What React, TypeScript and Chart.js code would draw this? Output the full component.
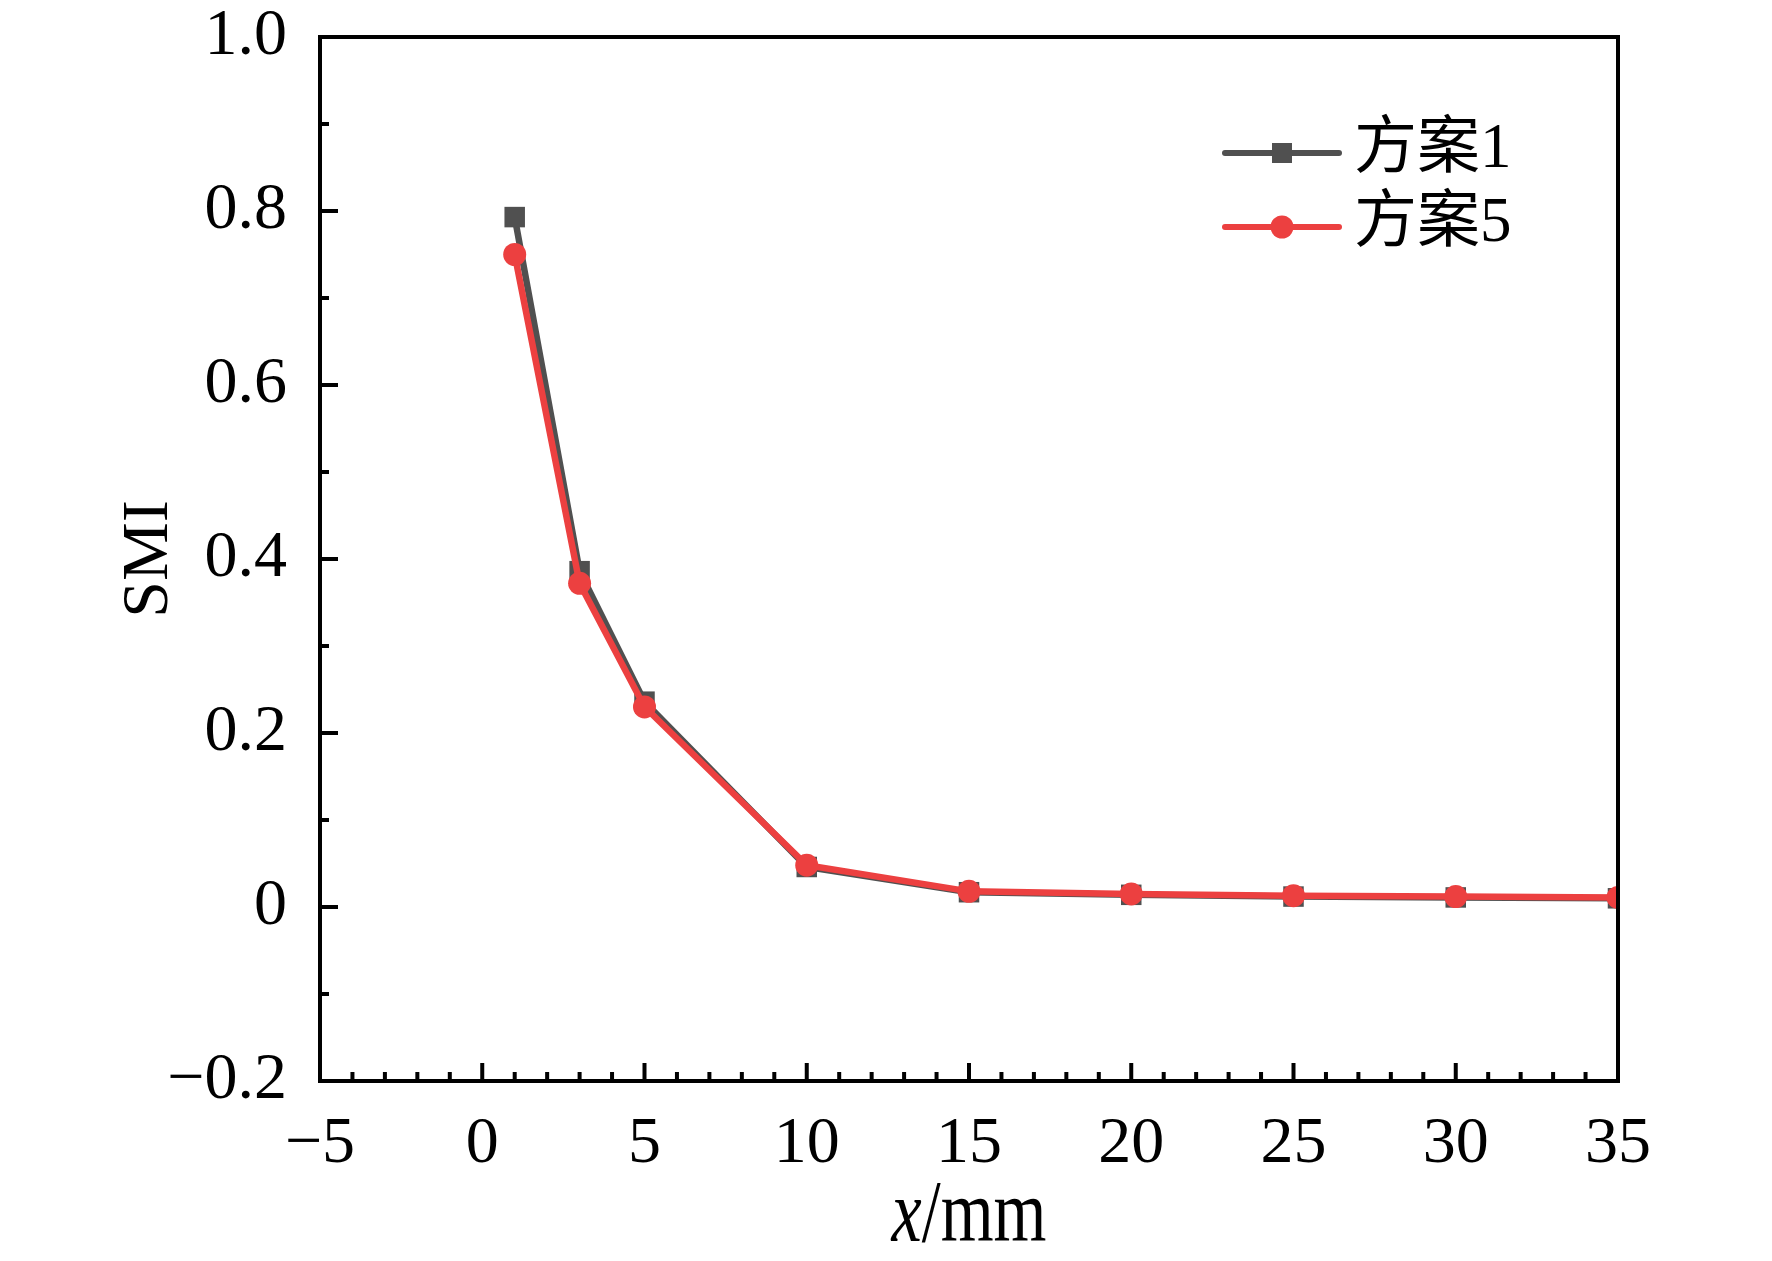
import React, { useEffect, useRef } from 'react';
import { Chart, registerables } from 'chart.js';

Chart.register(...registerables);

// data
const xValues = [1, 3, 5, 10, 15, 20, 25, 30, 35];
const scheme1 = [0.793, 0.386, 0.236, 0.046, 0.017, 0.014, 0.012, 0.011, 0.01];
const scheme5 = [0.75, 0.372, 0.23, 0.048, 0.018, 0.015, 0.013, 0.012, 0.011];
const seriesLabels = ['方案1', '方案5'];
const seriesColors = ['#505050', '#ec4040'];
const seriesMarkers = ['rect', 'circle'];
const xRange = [-5, 35];
const yRange = [-0.2, 1.0];

const SERIF = '"Liberation Serif", "Times New Roman", "Noto Sans CJK SC", serif';

const signed = (s: string, v: number) => (v < 0 ? '\u2212' + s : s);

const fmtX = (v: number) => signed(String(Math.abs(v)), v);
const fmtY = (v: number) => {
  if (Math.abs(v) < 1e-9) return '0';
  return signed(Math.abs(v).toFixed(1), v);
};

// box frame + inward ticks on left and bottom
const framePlugin = {
  id: 'frame',
  afterDatasetsDraw(chart: any) {
    const { ctx, chartArea: a, scales } = chart;
    const xs = scales.x;
    const ys = scales.y;
    ctx.save();
    ctx.strokeStyle = '#000';
    ctx.lineWidth = 4;
    ctx.beginPath();
    for (let i = 0; ; i++) {
      const v = xs.min + i;
      if (v > xs.max + 1e-9) break;
      const px = xs.getPixelForValue(v);
      const len = i % 5 === 0 ? 18 : 9;
      ctx.moveTo(px, a.bottom);
      ctx.lineTo(px, a.bottom - len);
    }
    for (let i = 0; ; i++) {
      const v = ys.min + i * 0.1;
      if (v > ys.max + 1e-9) break;
      const py = ys.getPixelForValue(v);
      const len = i % 2 === 0 ? 18 : 9;
      ctx.moveTo(a.left, py);
      ctx.lineTo(a.left + len, py);
    }
    ctx.stroke();
    ctx.lineJoin = 'miter';
    ctx.strokeRect(a.left, a.top, a.right - a.left, a.bottom - a.top);
    ctx.restore();
  },
};

// legend in the upper right of the plot
const legendPlugin = {
  id: 'insideLegend',
  afterDraw(chart: any) {
    const { ctx, chartArea: a } = chart;
    const x0 = a.right - 393;
    const x1 = a.right - 279;
    const xm = (x0 + x1) / 2;
    ctx.save();
    chart.data.datasets.forEach((ds: any, i: number) => {
      const y = a.top + 116 + i * 74;
      ctx.strokeStyle = ds.borderColor;
      ctx.lineWidth = 6;
      ctx.lineCap = 'round';
      ctx.beginPath();
      ctx.moveTo(x0, y);
      ctx.lineTo(x1, y);
      ctx.stroke();
      ctx.fillStyle = ds.pointBackgroundColor;
      ctx.beginPath();
      if (ds.pointStyle === 'rect') {
        ctx.rect(xm - 10, y - 10, 20, 20);
      } else {
        ctx.arc(xm, y, 11.5, 0, Math.PI * 2);
      }
      ctx.fill();
      ctx.fillStyle = '#000';
      ctx.font = '63px ' + SERIF;
      ctx.textAlign = 'left';
      ctx.textBaseline = 'middle';
      ctx.fillText(ds.label, a.right - 264, y - 3);
    });
    ctx.restore();
  },
};

// x axis title with italic x
const xTitlePlugin = {
  id: 'xTitle',
  afterDraw(chart: any) {
    const { ctx, chartArea: a } = chart;
    const size = 68;
    const italic = 'italic ' + size + 'px ' + SERIF;
    const upright = size + 'px ' + SERIF;
    ctx.save();
    ctx.font = italic;
    const w1 = ctx.measureText('x').width;
    ctx.font = upright;
    const w2 = ctx.measureText('/mm').width;
    const cx = (a.left + a.right) / 2;
    const left = cx - (w1 + w2) / 2;
    const base = 1241;
    ctx.translate(0, base);
    ctx.scale(1, 1.3);
    ctx.fillStyle = '#000';
    ctx.textBaseline = 'alphabetic';
    ctx.textAlign = 'left';
    ctx.font = italic;
    ctx.fillText('x', left, 0);
    ctx.font = upright;
    ctx.fillText('/mm', left + w1, 0);
    ctx.restore();
  },
};

const App = () => {
  const chartRef = useRef<HTMLCanvasElement>(null);

  useEffect(() => {
    if (!chartRef.current) return;
    const series = [scheme1, scheme5];
    const chart = new Chart(chartRef.current!, {
      type: 'line',
      data: {
        datasets: series.map((vals, i) => ({
          label: seriesLabels[i],
          data: xValues.map((x, j) => ({ x, y: vals[j] })),
          borderColor: seriesColors[i],
          backgroundColor: seriesColors[i],
          pointBackgroundColor: seriesColors[i],
          pointBorderWidth: 0,
          pointStyle: seriesMarkers[i],
          pointRadius: seriesMarkers[i] === 'rect' ? 14.5 : 11.5,
          borderWidth: 6.5,
          tension: 0,
          clip: 0,
          order: series.length - i,
        })),
      },
      options: {
        animation: false,
        responsive: false,
        devicePixelRatio: 1,
        layout: { padding: { left: 0, top: 37, right: 154, bottom: 0 } },
        plugins: {
          legend: { display: false },
          tooltip: { enabled: false },
        },
        scales: {
          x: {
            type: 'linear',
            min: xRange[0],
            max: xRange[1],
            grid: { display: false },
            border: { display: false },
            ticks: {
              stepSize: 5,
              color: '#000',
              padding: 23,
              font: { family: SERIF, size: 66, lineHeight: 1 },
              callback: (v: any) => fmtX(Number(v)),
              maxRotation: 0,
            },
            afterFit: (s: any) => {
              s.height = 180;
              s.paddingLeft = 0;
              s.paddingRight = 0;
            },
          },
          y: {
            type: 'linear',
            min: yRange[0],
            max: yRange[1],
            grid: { display: false },
            border: { display: false },
            ticks: {
              stepSize: 0.2,
              color: '#000',
              padding: 25,
              font: { family: SERIF, size: 66, lineHeight: 1 },
              callback: (v: any) => fmtY(Number(v)),
            },
            title: {
              display: true,
              text: 'SMI',
              color: '#000',
              font: { family: SERIF, size: 66, lineHeight: 1 },
              padding: { top: 117, bottom: 0 },
            },
            afterFit: (s: any) => {
              s.width = 320;
              s.paddingTop = 0;
              s.paddingBottom = 0;
            },
          },
        },
      },
      plugins: [framePlugin, legendPlugin, xTitlePlugin],
    });

    return () => {
      chart.destroy();
    };
  }, []);

  return (
    <div style={{ position: 'absolute', left: 0, top: 0, width: 1772, height: 1261, background: '#fff' }}>
      <canvas ref={chartRef} width={1772} height={1261} style={{ display: 'block' }} />
    </div>
  );
};

export default App;
